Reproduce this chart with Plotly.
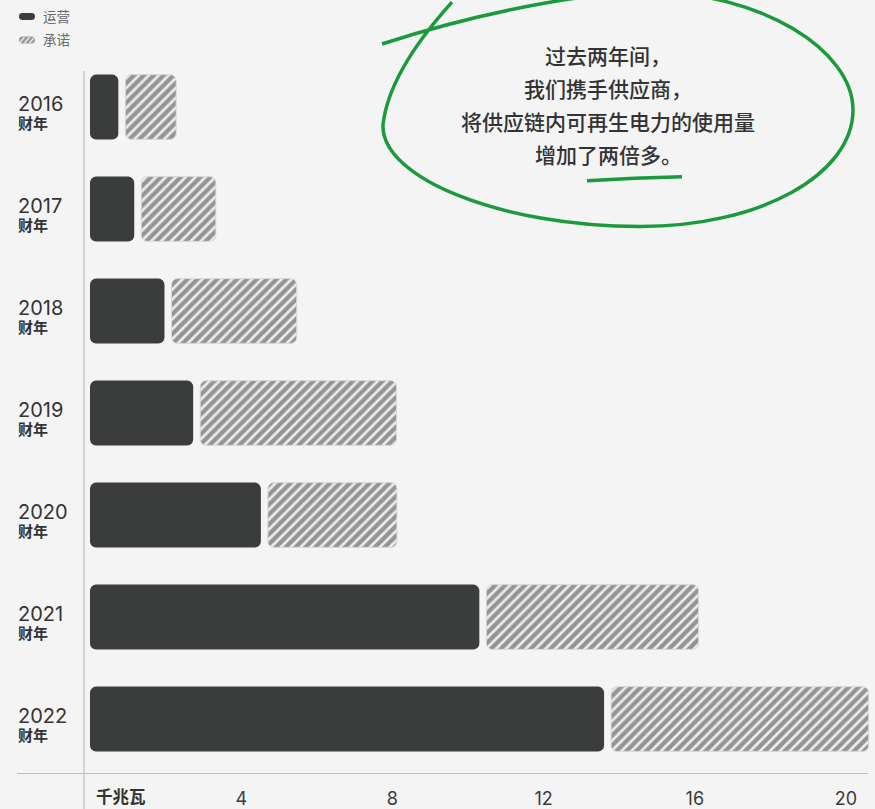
import plotly.graph_objects as go

# ---------------- data ----------------
years = ["2016", "2017", "2018", "2019", "2020", "2021", "2022"]
year_suffix = "财年"
operational = [0.75, 1.17, 1.97, 2.73, 4.52, 10.3, 13.6]   # 运营 (GW)
committed = [1.53, 2.16, 3.50, 5.38, 3.60, 5.80, 7.00]     # 承诺 (GW)
tick_vals = [4, 8, 12, 16, 20]
tick_text = ["4", "8", "12", "16", "20"]
unit_label = "千兆瓦"
legend_labels = ["运营", "承诺"]
callout_lines = ["过去两年间，", "我们携手供应商，", "将供应链内可再生电力的使用量", "增加了两倍多。"]

# ---------------- geometry (pixels) ----------------
W, H = 875, 809
L, R, T, B = 84, 875, 56, 772
X0 = 90            # pixel of value 0
K = 37.8           # pixels per GW
GAP = 7 / K        # visual gap between segments in data units

def fx(X):
    return (X - L) / (R - L)

def fy(Y):
    return (B - Y) / (B - T)

def pt(X, Y):
    return f"{fx(X):.5f},{fy(Y):.5f}"

FONT = "Inter, Noto Sans CJK SC, sans-serif"
DARK = "#3b3d3d"
GREEN = "#1a9a3a"
BG = "#f4f4f4"
BAR_W = 0.635

fig = go.Figure()

fig.add_trace(go.Bar(
    y=years, x=operational, base=[0] * len(operational),
    orientation="h", width=BAR_W,
    marker=dict(color=DARK, opacity=1, line=dict(width=0)),
    name=legend_labels[0], showlegend=False,
))
fig.add_trace(go.Bar(
    y=years, x=[c - GAP for c in committed],
    base=[o + GAP for o in operational],
    orientation="h", width=BAR_W,
    marker=dict(
        color="#ececec", opacity=1, line=dict(width=1, color="#d9d9d9"),
        pattern=dict(shape="/", fgcolor="#949494", bgcolor="#ececec",
                     fgopacity=1, size=7, solidity=0.62),
    ),
    name=legend_labels[1], showlegend=False,
))

shapes = []
# axis lines
shapes.append(dict(type="line", xref="paper", yref="paper",
                   x0=fx(84), x1=fx(84), y0=fy(71), y1=fy(812),
                   line=dict(color="#c8c8c8", width=1.5)))
shapes.append(dict(type="line", xref="paper", yref="paper",
                   x0=fx(17), x1=fx(868), y0=fy(775.5), y1=fy(775.5),
                   line=dict(color="#bdbdbd", width=1.2)))

# hand drawn ellipse
ell = ("M " + pt(452, 2) +
       " C " + pt(425, 32) + " " + pt(388, 80) + " " + pt(383, 125) +
       " C " + pt(381, 178) + " " + pt(500, 227) + " " + pt(640, 227) +
       " C " + pt(760, 227) + " " + pt(853, 175) + " " + pt(853, 110) +
       " C " + pt(853, 50) + " " + pt(760, -8) + " " + pt(650, -8) +
       " C " + pt(580, -8) + " " + pt(470, 15) + " " + pt(382, 44))
shapes.append(dict(type="path", xref="paper", yref="paper", path=ell,
                   line=dict(color=GREEN, width=3.5)))
# underline
ul = "M " + pt(587, 181) + " Q " + pt(635, 178) + " " + pt(682, 177)
shapes.append(dict(type="path", xref="paper", yref="paper", path=ul,
                   line=dict(color=GREEN, width=3.5)))

# legend pills
def pill(cx, cy, w=16, h=7):
    r = h / 2
    x1, x2 = cx - w / 2, cx + w / 2
    y1, y2 = cy - r, cy + r
    return ("M " + pt(x1 + r, y1) + " L " + pt(x2 - r, y1) +
            " Q " + pt(x2, y1) + " " + pt(x2, cy) +
            " Q " + pt(x2, y2) + " " + pt(x2 - r, y2) +
            " L " + pt(x1 + r, y2) +
            " Q " + pt(x1, y2) + " " + pt(x1, cy) +
            " Q " + pt(x1, y1) + " " + pt(x1 + r, y1) + " Z")

shapes.append(dict(type="path", xref="paper", yref="paper", path=pill(27, 16.5),
                   fillcolor=DARK, line=dict(width=0)))
shapes.append(dict(type="path", xref="paper", yref="paper", path=pill(27, 40),
                   fillcolor="#9a9a9a", line=dict(width=0)))
for sx in (22, 27, 32):
    shapes.append(dict(type="line", xref="paper", yref="paper",
                       x0=fx(sx - 2.5), y0=fy(43), x1=fx(sx + 2.5), y1=fy(37),
                       line=dict(color="#eeeeee", width=1.3)))

annotations = []
# legend texts
for lbl, cy in zip(legend_labels, (16.5, 40)):
    annotations.append(dict(xref="paper", yref="paper", x=fx(41), y=fy(cy),
                            xanchor="left", yanchor="middle", text=lbl, showarrow=False,
                            font=dict(family=FONT, size=13.5, color="#6a6a6a")))
# year labels (one two-line text per year)
for i, yr in enumerate(years):
    txt = (f"<span style='font-size:20px'>{yr}</span><br>"
           f"<span style='font-size:15px;font-weight:600'>{year_suffix}</span>")
    annotations.append(dict(xref="paper", yref="y", x=fx(17), y=i, yshift=-5.5,
                            xanchor="left", yanchor="middle", align="left", text=txt,
                            showarrow=False, borderpad=0,
                            font=dict(family=FONT, size=13.5, color="#333333")))
# unit label
annotations.append(dict(xref="paper", yref="paper", x=fx(94), y=fy(799),
                        xanchor="left", yanchor="middle", text=unit_label, showarrow=False,
                        font=dict(family=FONT, size=16.5, color="#333333", weight=600)))
# callout
for line, cy in zip(callout_lines, (57, 90, 123, 156)):
    annotations.append(dict(xref="paper", yref="paper", x=fx(608), y=fy(cy),
                            xanchor="center", yanchor="middle", text=line, showarrow=False,
                            font=dict(family=FONT, size=21, color="#333333", weight=500)))

fig.update_layout(
    width=W, height=H,
    margin=dict(l=L, r=W - R, t=T, b=H - B),
    paper_bgcolor=BG, plot_bgcolor=BG,
    barmode="overlay", barcornerradius=6,
    showlegend=False,
    xaxis=dict(range=[(L - X0) / K, (R - X0) / K], tickvals=tick_vals, ticktext=tick_text,
               showgrid=False, zeroline=False, showline=False,
               ticks="outside", ticklen=12, tickcolor="rgba(0,0,0,0)",
               tickfont=dict(family=FONT, size=18, color="#3a3a3a")),
    yaxis=dict(type="category", categoryorder="array", categoryarray=years, range=[6.5, -0.5],
               showgrid=False, zeroline=False, showline=False, showticklabels=False),
    shapes=shapes, annotations=annotations,
    font=dict(family=FONT),
)

fig.write_html("out.html", config={"displayModeBar": False},
               post_script="document.body.style.margin='0';document.body.style.background='#f4f4f4';")
